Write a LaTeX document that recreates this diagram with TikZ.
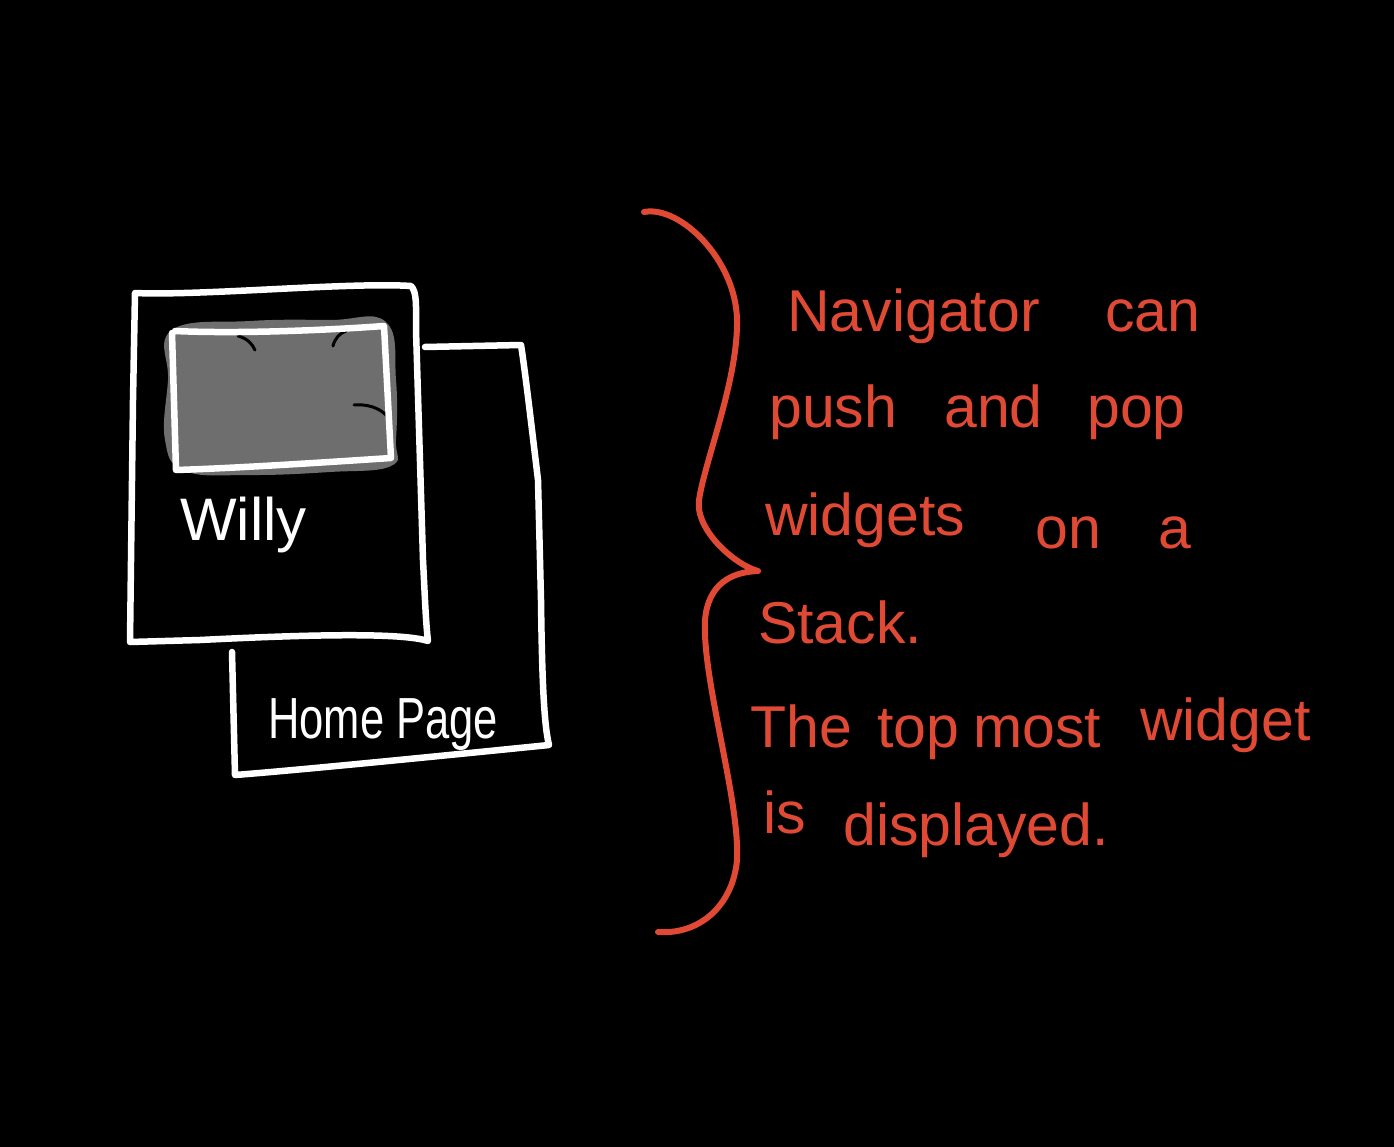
\documentclass[tikz,border=0pt]{standalone}
\usepackage{fontspec}
\setmainfont{Liberation Sans}
\definecolor{inkred}{HTML}{E04A35}
\definecolor{blobgray}{HTML}{6E6E6E}
\begin{document}
\begin{tikzpicture}[x=1pt,y=-1pt,
  wline/.style={draw=white, line width=6.5pt, line cap=round, line join=round},
  rline/.style={draw=inkred, line width=6pt, line cap=round, line join=round},
  redtxt/.style={text=inkred, font=\fontsize{59}{66}\selectfont, anchor=base west, inner sep=0pt},
  whtxt/.style={text=white, font=\fontsize{60}{66}\selectfont, anchor=base west, inner sep=0pt}]
\fill[black] (0,0) rectangle (1394,1147);
\useasboundingbox (0,0) rectangle (1394,1147);

% back page (Home Page)
\draw[wline] (425,347) -- (521,345)
  .. controls (525,370) and (532,430) .. (538,480)
  -- (541,600)
  .. controls (542,680) and (544,725) .. (549,745)
  .. controls (450,755) and (300,770) .. (235,775)
  -- (232,652);

% front page (Willy)
\draw[wline] (135,293)
  .. controls (200,296) and (350,282) .. (411,286)
  .. controls (417,292) and (416,305) .. (416,330)
  -- (423,560)
  .. controls (425,600) and (426,625) .. (428,641)
  .. controls (400,632) and (300,635) .. (200,640)
  -- (130,642)
  -- (133,400) -- cycle;

% grey picture blob
\fill[blobgray] plot[smooth cycle, tension=0.7] coordinates {
  (172,330) (250,321) (330,320) (386,322) (396,380) (396,440)
  (391,466) (330,472) (250,475) (185,471) (165,440) (168,380)};
\draw[black, line width=3pt, line cap=round] (238,336) .. controls (246,338) and (252,343) .. (255,350);
\draw[black, line width=3pt, line cap=round] (333,346) .. controls (335,338) and (340,333) .. (346,331);
\draw[black, line width=3pt, line cap=round] (354,405) .. controls (366,404) and (378,407) .. (386,415);
\draw[wline] (175,331)
  .. controls (240,334) and (330,330) .. (384,326)
  -- (391,458)
  .. controls (330,462) and (240,468) .. (176,470)
  -- (172,333);

\node[whtxt] (willy) at (180,540) {Willy};
\node[whtxt, font=\fontsize{58}{64}\selectfont] (home) at (268,738) {\scalebox{0.75}[1]{Home Page}};

% brace
\coordinate (btop) at (644,212);
\coordinate (btip) at (758,571);
\coordinate (bbot) at (658,932);
\draw[rline] (btop)
  .. controls (680,205) and (736,260) .. (737,320)
  .. controls (738,380) and (705,460) .. (699,500)
  .. controls (695,530) and (735,565) .. (btip)
  .. controls (730,572) and (708,585) .. (705,620)
  .. controls (702,680) and (740,800) .. (737,860)
  .. controls (733,905) and (700,935) .. (bbot);

% red text
\node[redtxt] (w1) at (787,332) {Navigator};
\node[redtxt] (w2) at (1105,332) {can};
\node[redtxt] (w3) at (769,427) {push};
\node[redtxt] (w4) at (944,427) {and};
\node[redtxt] (w5) at (1087,427) {pop};
\node[redtxt] (w6) at (765,535) {widgets};
\node[redtxt] (w7) at (1035,548) {on};
\node[redtxt] (w8) at (1158,548) {a};
\node[redtxt] (w9) at (758,643) {Stack.};
\node[redtxt] (w10) at (750,747) {The};
\node[redtxt] (w11) at (877,747) {top};
\node[redtxt] (w12) at (973,747) {most};
\node[redtxt] (w13) at (1140,740) {widget};
\node[redtxt] (w14) at (763,833) {is};
\node[redtxt] (w15) at (843,845) {displayed.};
\end{tikzpicture}
\end{document}
